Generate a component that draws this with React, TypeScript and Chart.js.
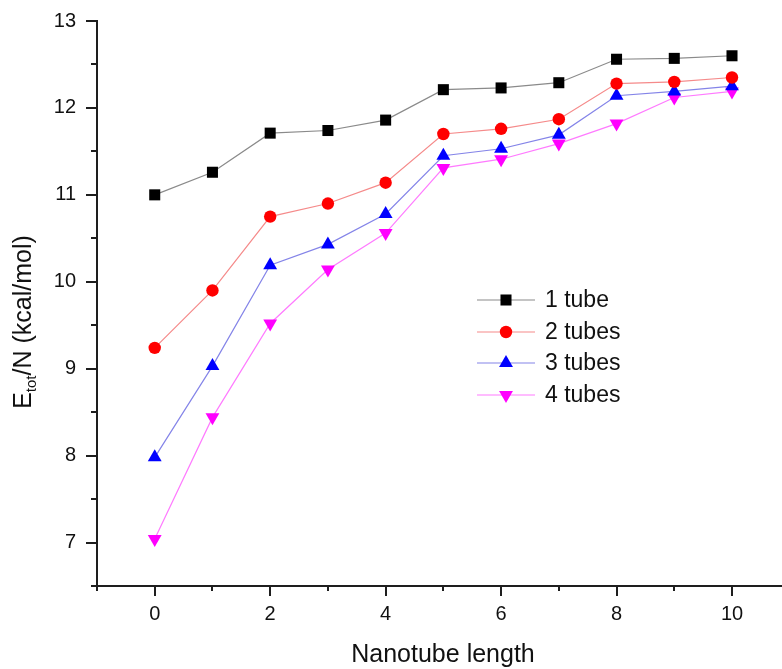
import React, { useEffect, useRef } from "react";
import { Chart, registerables } from "chart.js";

Chart.register(...registerables);

const lengths = [0, 1, 2, 3, 4, 5, 6, 7, 8, 9, 10];
const oneTube = [11.0, 11.26, 11.71, 11.74, 11.86, 12.21, 12.23, 12.29, 12.56, 12.57, 12.6];
const twoTubes = [9.24, 9.9, 10.75, 10.9, 11.14, 11.7, 11.76, 11.87, 12.28, 12.3, 12.35];
const threeTubes = [7.98, 9.03, 10.19, 10.43, 10.78, 11.45, 11.53, 11.69, 12.14, 12.19, 12.25];
const fourTubes = [7.04, 8.44, 9.52, 10.14, 10.56, 11.31, 11.41, 11.59, 11.82, 12.12, 12.19];

const seriesNames = ["1 tube", "2 tubes", "3 tubes", "4 tubes"];
const xMajorTicks = [0, 2, 4, 6, 8, 10];
const yMajorTicks = [7, 8, 9, 10, 11, 12, 13];

const FONT = "'Liberation Sans', Arial, sans-serif";
const AXIS = "#1e1e1e";
const CANVAS_W = 800;
const VIEW_W = 782;
const H = 669;
const X_UNIT_PX = (732 - 97) / 11;

const styles = [
  { line: "#8a8a8a", fill: "#000000", shape: "rect", radius: 7.8, rotation: 0 },
  { line: "#f58a8a", fill: "#ff0000", shape: "circle", radius: 6.2, rotation: 0 },
  { line: "#8484e8", fill: "#0000ff", shape: "triangle", radius: 8, rotation: 0 },
  { line: "#ff7aff", fill: "#ff00ff", shape: "triangle", radius: 8, rotation: 180 },
];

function drawMarker(ctx: CanvasRenderingContext2D, shape: string, x: number, y: number, r: number, rot: number, color: string) {
  ctx.save();
  ctx.fillStyle = color;
  ctx.beginPath();
  if (shape === "rect") {
    const s = Math.SQRT1_2 * r;
    ctx.rect(x - s, y - s, 2 * s, 2 * s);
  } else if (shape === "circle") {
    ctx.arc(x, y, r, 0, Math.PI * 2);
  } else {
    let rad = (rot * Math.PI) / 180;
    ctx.moveTo(x + Math.sin(rad) * r, y - Math.cos(rad) * r);
    rad += (2 * Math.PI) / 3;
    ctx.lineTo(x + Math.sin(rad) * r, y - Math.cos(rad) * r);
    rad += (2 * Math.PI) / 3;
    ctx.lineTo(x + Math.sin(rad) * r, y - Math.cos(rad) * r);
    ctx.closePath();
  }
  ctx.fill();
  ctx.restore();
}

const decorPlugin = {
  id: "decor",
  afterDraw(chart: any) {
    const ctx: CanvasRenderingContext2D = chart.ctx;
    const xs = chart.scales.x;
    const ys = chart.scales.y;
    const area = chart.chartArea;
    ctx.save();
    ctx.strokeStyle = AXIS;
    ctx.lineWidth = 2;
    for (let v = -1; v <= 11; v++) {
      const px = Math.round(xs.getPixelForValue(v));
      if (px > area.right) continue;
      const len = xMajorTicks.includes(v) ? 10 : 5;
      ctx.beginPath();
      ctx.moveTo(px, area.bottom);
      ctx.lineTo(px, area.bottom + len);
      ctx.stroke();
    }
    for (let v = 6.5; v <= 13.001; v += 0.5) {
      const py = Math.round(ys.getPixelForValue(v));
      const len = yMajorTicks.includes(v) ? 11 : 6;
      ctx.beginPath();
      ctx.moveTo(area.left, py);
      ctx.lineTo(area.left - len, py);
      ctx.stroke();
    }
    ctx.restore();

    // legend
    ctx.save();
    const lx0 = 477, lx1 = 535, mx = 506, tx = 545;
    const rows = [300, 332, 363, 395];
    chart.data.datasets.forEach((ds: any, i: number) => {
      const st = styles[i];
      const y = rows[i];
      ctx.strokeStyle = st.line;
      ctx.lineWidth = 1.2;
      ctx.beginPath();
      ctx.moveTo(lx0, y);
      ctx.lineTo(lx1, y);
      ctx.stroke();
      drawMarker(ctx, st.shape, mx, y, st.radius, st.rotation, st.fill);
      ctx.fillStyle = "#111";
      ctx.font = `23px ${FONT}`;
      ctx.textBaseline = "middle";
      ctx.textAlign = "left";
      ctx.fillText(ds.label, tx, y + 1);
    });
    ctx.restore();

    // x title
    ctx.save();
    ctx.fillStyle = "#111";
    ctx.font = `25px ${FONT}`;
    ctx.textAlign = "center";
    ctx.textBaseline = "alphabetic";
    ctx.fillText("Nanotube length", 443, 662);
    ctx.restore();

    // y title with subscript
    ctx.save();
    ctx.fillStyle = "#111";
    ctx.translate(31, 322);
    ctx.rotate(-Math.PI / 2);
    ctx.textBaseline = "alphabetic";
    ctx.textAlign = "left";
    const big = `25px ${FONT}`;
    const small = `15px ${FONT}`;
    ctx.font = big;
    const wE = ctx.measureText("E").width;
    const wRest = ctx.measureText("/N (kcal/mol)").width;
    ctx.font = small;
    const wSub = ctx.measureText("tot").width;
    const total = wE + wSub + wRest;
    let x = -total / 2;
    ctx.font = big;
    ctx.fillText("E", x, 0);
    x += wE;
    ctx.font = small;
    ctx.fillText("tot", x, 5);
    x += wSub;
    ctx.font = big;
    ctx.fillText("/N (kcal/mol)", x, 0);
    ctx.restore();
  },
};

export default function App() {
  const ref = useRef<HTMLCanvasElement | null>(null);
  useEffect(() => {
    if (!ref.current) return;
    const all = [oneTube, twoTubes, threeTubes, fourTubes];
    const chart: any = new Chart(ref.current, {
      type: "line",
      data: {
        datasets: all.map((vals, i) => ({
          label: seriesNames[i],
          data: lengths.map((x, j) => ({ x, y: vals[j] })),
          borderColor: styles[i].line,
          borderWidth: 1.2,
          backgroundColor: styles[i].fill,
          pointBackgroundColor: styles[i].fill,
          pointBorderWidth: 0,
          pointBorderColor: styles[i].fill,
          pointStyle: styles[i].shape as any,
          pointRadius: styles[i].radius,
          pointRotation: styles[i].rotation,
          pointHoverRadius: styles[i].radius,
          tension: 0,
          fill: false,
          clip: false as any,
        })),
      },
      options: {
        animation: false,
        responsive: false,
        events: [],
        layout: { padding: { top: 21, left: 0, right: 0, bottom: 0 } },
        plugins: { legend: { display: false }, tooltip: { enabled: false }, title: { display: false } },
        scales: {
          x: {
            type: "linear",
            min: -1,
            max: 11.5,
            grid: { display: false },
            border: { display: true, color: AXIS, width: 2 },
            afterBuildTicks: (s: any) => {
              s.ticks = xMajorTicks.map((v) => ({ value: v }));
            },
            afterFit: (s: any) => {
              s.height = 83;
              s.paddingLeft = 0;
              s.paddingRight = 0;
            },
            ticks: {
              color: "#111",
              font: { family: FONT, size: 20 },
              padding: 8,
              maxRotation: 0,
              autoSkip: false,
              callback: (v: any) => String(v),
            },
          },
          y: {
            type: "linear",
            min: 6.5,
            max: 13,
            grid: { display: false },
            border: { display: true, color: AXIS, width: 2 },
            afterBuildTicks: (s: any) => {
              s.ticks = yMajorTicks.map((v) => ({ value: v }));
            },
            afterFit: (s: any) => {
              s.width = 97;
              s.paddingTop = 0;
              s.paddingBottom = 0;
            },
            ticks: {
              color: "#111",
              font: { family: FONT, size: 20 },
              padding: 13,
              autoSkip: false,
              callback: (v: any) => String(v),
            },
          },
        },
      },
      plugins: [decorPlugin],
    });
    const area = chart.chartArea;
    chart.options.scales.x.max = -1 + (area.right - area.left) / X_UNIT_PX;
    chart.update();
    return () => chart.destroy();
  }, []);
  return (
    <div style={{ position: "absolute", left: 0, top: 0, width: VIEW_W, height: H, overflow: "hidden", background: "#fff" }}>
      <canvas ref={ref} width={CANVAS_W} height={H} style={{ display: "block" }} />
    </div>
  );
}
